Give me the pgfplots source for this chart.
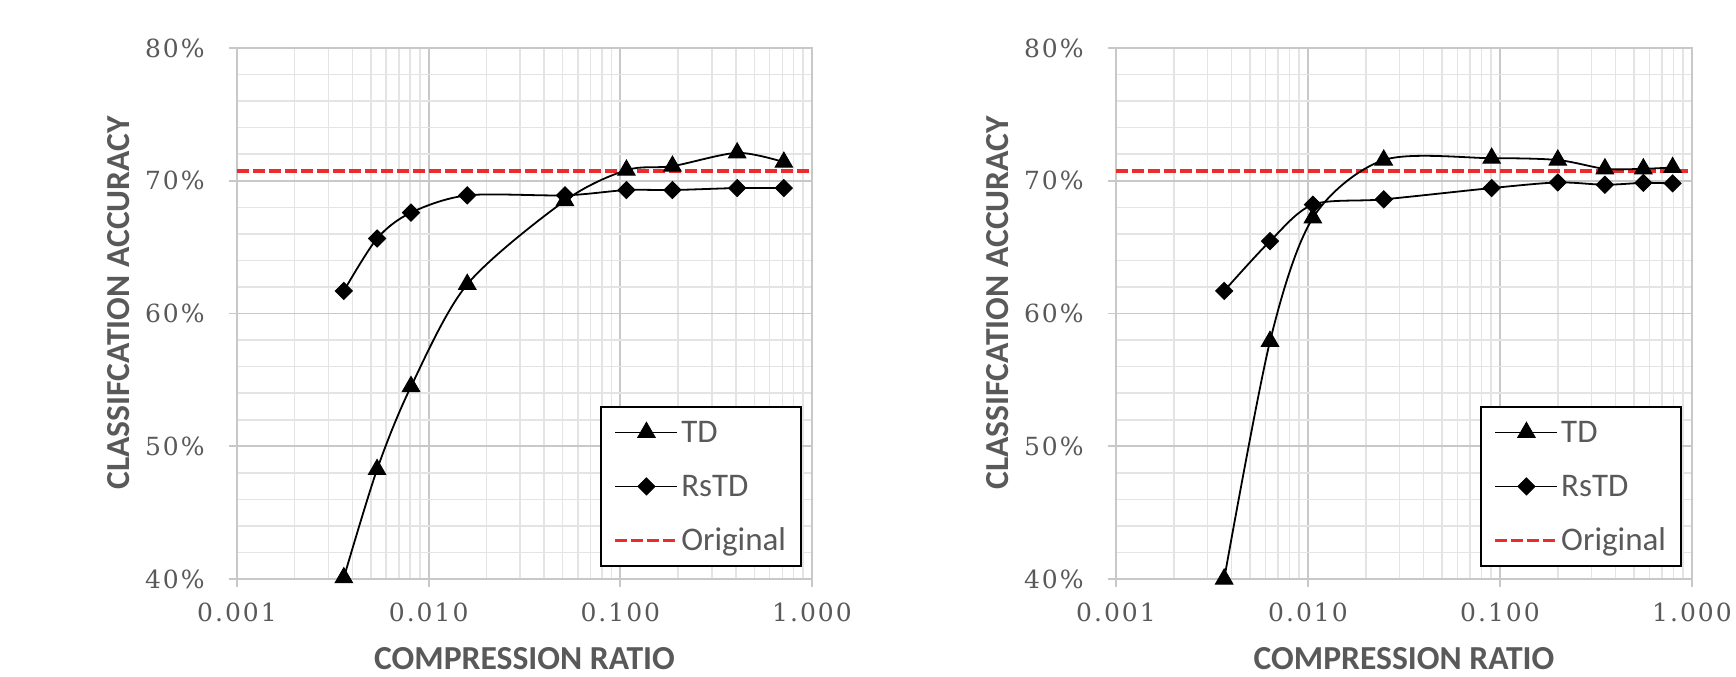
\documentclass[border=0pt]{standalone}
\usepackage{fontspec}
\setmainfont{Carlito}
\newfontfamily\tickfont[LetterSpace=8]{DejaVu Serif}
\usepackage{pgfplots}
\usepackage{pgfplotstable}
\pgfplotsset{compat=1.18}
\definecolor{txt}{HTML}{595959}
\definecolor{majgrid}{HTML}{C8C8C8}
\definecolor{mingrid}{HTML}{E4E4E4}
\definecolor{origred}{HTML}{EE2B2B}

\pgfplotstableread{
x y
0.00361 40.1
0.00538 48.25
0.00809 54.5
0.0159 62.2
0.0514 68.5
0.1076 70.8
0.187 71.1
0.407 72.1
0.713 71.4
}\leftTD
\pgfplotstableread{
x y
0.00361 61.7
0.00538 65.65
0.00809 67.6
0.0159 68.9
0.0514 68.9
0.1076 69.3
0.187 69.3
0.407 69.45
0.713 69.45
}\leftRsTD
\pgfplotstableread{
x y
0.00366 40.0
0.00634 57.9
0.0106 67.2
0.0248 71.56
0.0905 71.7
0.200 71.56
0.352 70.9
0.558 70.9
0.793 71.0
}\rightTD
\pgfplotstableread{
x y
0.00366 61.7
0.00634 65.45
0.0106 68.2
0.0248 68.6
0.0905 69.45
0.200 69.87
0.352 69.7
0.558 69.84
0.793 69.8
}\rightRsTD

\tikzset{
  tdstyle/.style={black, line width=0.9pt, smooth, tension=0.5, mark=triangle*, mark size=5pt, mark options={solid, fill=black, line width=0.5pt}},
  rsstyle/.style={black, line width=0.9pt, smooth, tension=0.5, mark=square*, mark size=3pt, mark options={solid, fill=black, rotate=45, line width=0.5pt}},
  origstyle/.style={origred, line width=1.8pt, dash pattern=on 6pt off 2pt},
}

\pgfplotsset{
  every axis/.append style={
    scale only axis, height=265.5pt,
    xmode=log, xmin=0.001, xmax=1, ymin=40, ymax=80,
    xtick={0.001,0.01,0.1,1}, xticklabels={0.001,0.010,0.100,1.000},
    minor xtick={0.002,0.003,0.004,0.005,0.006,0.007,0.008,0.009,0.02,0.03,0.04,0.05,0.06,0.07,0.08,0.09,0.2,0.3,0.4,0.5,0.6,0.7,0.8,0.9},
    ytick={40,50,60,70,80}, yticklabels={40\%,50\%,60\%,70\%,80\%},
    minor ytick={42,44,46,48,52,54,56,58,62,64,66,68,72,74,76,78},
    grid=both,
    major grid style={draw=majgrid, line width=0.9pt},
    minor grid style={draw=mingrid, line width=0.8pt},
    axis line style={draw=majgrid, line width=0.9pt},
    tick align=outside, tick pos=left,
    major tick length=4pt, minor tick length=0pt,
    major tick style={draw=majgrid, line width=0.9pt},
    ticklabel style={font=\tickfont\fontsize{12.5}{15}\selectfont, text=txt},
    xticklabel style={anchor=north, inner sep=0pt, yshift=-8pt},
    yticklabel style={anchor=east, inner sep=0pt, xshift=-12pt},
    xlabel={COMPRESSION RATIO},
    ylabel={CLASSIFCATION ACCURACY},
    label style={font=\bfseries\fontsize{16.8}{19}\selectfont, text=txt},
    xlabel style={at={(axis description cs:0.5,-0.15)}, anchor=center},
    ylabel style={at={(axis description cs:-0.206,0.52)}, anchor=center},
    clip=false,
    legend image code/.code={\draw[mark repeat=2,mark phase=2,##1] plot coordinates {(0pt,0pt) (15.5pt,0pt) (31pt,0pt)};},
    legend cell align=left,
    legend style={at={(1,0)}, anchor=south east, xshift=-5pt, yshift=6pt,
      draw=black, line width=1pt, inner xsep=6.5pt, inner ysep=5.8pt, row sep=13pt,
      font=\fontsize{16.5}{19}\selectfont, text=txt,
      nodes={inner sep=1pt, text height=11pt, text depth=1pt}},
  },
}

\begin{document}
\begin{tikzpicture}
\useasboundingbox (0,0) rectangle (868pt,338pt);
\begin{axis}[at={(118.5pt,48.5pt)}, anchor=south west, width=287.5pt]
\addplot[origstyle, forget plot] coordinates {(0.001,70.75) (1,70.75)};
\addplot[tdstyle] table[x=x,y=y] {\leftTD};
\addlegendentry{TD}
\addplot[rsstyle] table[x=x,y=y] {\leftRsTD};
\addlegendentry{RsTD}
\addlegendimage{origstyle}
\addlegendentry{Original}
\end{axis}
\begin{axis}[at={(558pt,48.5pt)}, anchor=south west, width=288pt]
\addplot[origstyle, forget plot] coordinates {(0.001,70.75) (1,70.75)};
\addplot[tdstyle] table[x=x,y=y] {\rightTD};
\addlegendentry{TD}
\addplot[rsstyle] table[x=x,y=y] {\rightRsTD};
\addlegendentry{RsTD}
\addlegendimage{origstyle}
\addlegendentry{Original}
\end{axis}
\end{tikzpicture}
\end{document}
